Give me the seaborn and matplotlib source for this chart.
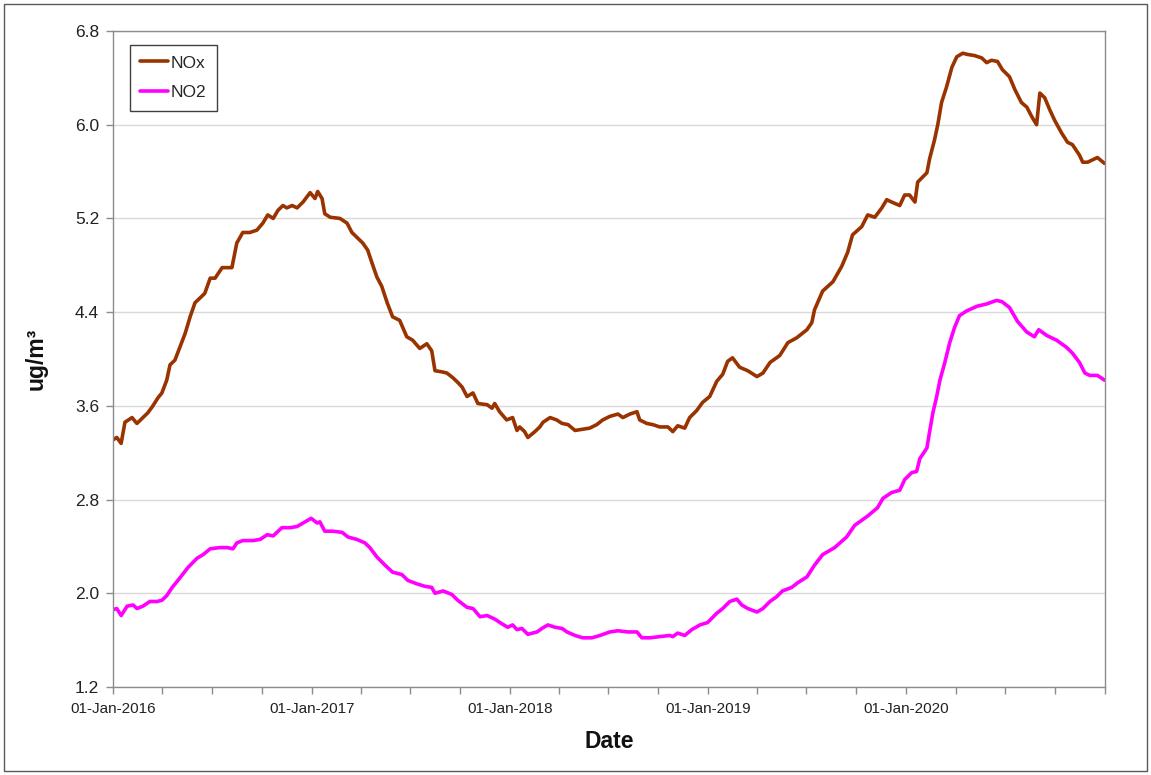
import matplotlib
matplotlib.use("Agg")
import matplotlib.pyplot as plt
import matplotlib.dates as mdates
from matplotlib.patches import Rectangle
from matplotlib.ticker import FixedLocator, FormatStrFormatter
import numpy as np
import pandas as pd
import seaborn as sns

# Rolling concentrations, days counted from 1 Jan 2016
nox_day = [0, 7, 15, 22, 35, 44, 55, 64, 72, 83, 90, 99, 105, 114, 123, 133, 142, 151,
           160, 169, 179, 188, 201, 219, 228, 239, 252, 265, 276, 285, 295, 304, 313, 320,
           330, 339, 350, 363, 372, 377, 385, 390, 400, 418, 431, 440, 449, 460, 469, 477,
           486, 495, 505, 515, 528, 541, 552, 565, 578, 587, 593, 606, 615, 626, 635, 643,
           652, 663, 672, 689, 698, 703, 712, 725, 736, 744, 749, 758, 764, 777, 786, 792,
           805, 817, 827, 838, 851, 865, 878, 891, 902, 915, 930, 939, 952, 965, 970, 983,
           994, 1007, 1022, 1031, 1040, 1053, 1062, 1075, 1086, 1099, 1112, 1123, 1132,
           1141, 1154, 1169, 1186, 1197, 1210, 1228, 1243, 1259, 1278, 1287, 1292, 1307,
           1326, 1342, 1353, 1362, 1379, 1390, 1403, 1416, 1425, 1434, 1449, 1458, 1467,
           1477, 1482, 1499, 1504, 1513, 1519, 1526, 1535, 1545, 1554, 1565, 1574, 1587,
           1600, 1609, 1618, 1629, 1638, 1651, 1661, 1673, 1683, 1692, 1701, 1707, 1716,
           1725, 1734, 1747, 1758, 1767, 1780, 1786, 1795, 1804, 1813, 1826]
nox_value = [3.31, 3.33, 3.28, 3.46, 3.50, 3.45, 3.50, 3.54, 3.59, 3.67, 3.71, 3.82, 3.95,
             3.99, 4.10, 4.22, 4.36, 4.48, 4.52, 4.56, 4.69, 4.69, 4.78, 4.78, 4.99, 5.08,
             5.08, 5.10, 5.16, 5.23, 5.20, 5.27, 5.31, 5.29, 5.31, 5.29, 5.34, 5.42, 5.37,
             5.43, 5.37, 5.24, 5.21, 5.20, 5.16, 5.08, 5.04, 4.99, 4.93, 4.82, 4.70, 4.62,
             4.48, 4.36, 4.33, 4.19, 4.16, 4.09, 4.13, 4.07, 3.90, 3.89, 3.88, 3.84, 3.80,
             3.76, 3.68, 3.71, 3.62, 3.61, 3.58, 3.62, 3.55, 3.48, 3.50, 3.39, 3.42, 3.38,
             3.33, 3.38, 3.42, 3.46, 3.50, 3.48, 3.45, 3.44, 3.39, 3.40, 3.41, 3.44, 3.48,
             3.51, 3.53, 3.50, 3.53, 3.55, 3.48, 3.45, 3.44, 3.42, 3.42, 3.38, 3.43, 3.41,
             3.50, 3.56, 3.63, 3.68, 3.81, 3.87, 3.98, 4.01, 3.93, 3.90, 3.85, 3.88, 3.97,
             4.03, 4.14, 4.18, 4.25, 4.31, 4.42, 4.58, 4.66, 4.79, 4.91, 5.06, 5.13, 5.23,
             5.21, 5.29, 5.36, 5.34, 5.31, 5.40, 5.40, 5.34, 5.51, 5.59, 5.71, 5.87, 6.00,
             6.19, 6.32, 6.49, 6.58, 6.61, 6.60, 6.59, 6.57, 6.53, 6.55, 6.54, 6.47, 6.41,
             6.30, 6.19, 6.15, 6.07, 6.00, 6.27, 6.23, 6.13, 6.04, 5.93, 5.85, 5.83, 5.74,
             5.68, 5.68, 5.70, 5.72, 5.67]

no2_day = [0, 7, 15, 26, 37, 44, 55, 68, 81, 90, 99, 109, 123, 138, 155, 166, 179, 197,
           210, 221, 228, 239, 258, 271, 284, 295, 311, 326, 339, 350, 365, 376, 381, 390,
           405, 422, 433, 449, 464, 473, 486, 501, 515, 532, 543, 560, 574, 587, 593, 608,
           624, 635, 652, 663, 676, 689, 703, 716, 727, 736, 744, 753, 764, 781, 790, 801,
           814, 827, 836, 851, 865, 882, 897, 915, 930, 948, 965, 974, 989, 1007, 1025,
           1031, 1040, 1053, 1066, 1081, 1095, 1112, 1123, 1136, 1149, 1158, 1169, 1186,
           1197, 1210, 1222, 1233, 1250, 1261, 1278, 1292, 1307, 1329, 1351, 1366, 1390,
           1408, 1418, 1434, 1449, 1458, 1471, 1480, 1486, 1499, 1504, 1510, 1517, 1523,
           1532, 1541, 1550, 1559, 1572, 1591, 1609, 1627, 1637, 1651, 1666, 1683, 1697,
           1705, 1720, 1738, 1756, 1767, 1780, 1790, 1799, 1813, 1826]
no2_value = [1.86, 1.87, 1.81, 1.89, 1.90, 1.87, 1.89, 1.93, 1.93, 1.94, 1.98, 2.05, 2.13,
             2.22, 2.30, 2.33, 2.38, 2.39, 2.39, 2.38, 2.43, 2.45, 2.45, 2.46, 2.50, 2.49,
             2.56, 2.56, 2.57, 2.60, 2.64, 2.60, 2.61, 2.53, 2.53, 2.52, 2.48, 2.46, 2.43,
             2.39, 2.31, 2.24, 2.18, 2.16, 2.11, 2.08, 2.06, 2.05, 2.00, 2.02, 1.99, 1.94,
             1.88, 1.87, 1.80, 1.81, 1.78, 1.74, 1.71, 1.73, 1.69, 1.70, 1.65, 1.67, 1.70,
             1.73, 1.71, 1.70, 1.67, 1.64, 1.62, 1.62, 1.64, 1.67, 1.68, 1.67, 1.67, 1.62,
             1.62, 1.63, 1.64, 1.63, 1.66, 1.64, 1.69, 1.73, 1.75, 1.83, 1.87, 1.93, 1.95,
             1.90, 1.87, 1.84, 1.87, 1.93, 1.97, 2.02, 2.05, 2.09, 2.14, 2.24, 2.33, 2.39,
             2.48, 2.58, 2.66, 2.73, 2.81, 2.86, 2.88, 2.97, 3.03, 3.04, 3.15, 3.24, 3.38,
             3.54, 3.68, 3.82, 3.97, 4.14, 4.27, 4.37, 4.41, 4.45, 4.47, 4.50, 4.49, 4.44,
             4.32, 4.23, 4.19, 4.25, 4.20, 4.16, 4.10, 4.05, 3.97, 3.88, 3.86, 3.86, 3.82]

series_names = ["NOx", "NO2"]
series_colors = ["#993300", "#FF00FF"]
y_ticks = [1.2, 2.0, 2.8, 3.6, 4.4, 5.2, 6.0, 6.8]
year_ticks = ["2016-01-01", "2017-01-01", "2018-01-01", "2019-01-01", "2020-01-01"]

start = pd.Timestamp("2016-01-01")
end = pd.Timestamp("2021-01-01")
frames = []
for name, days, vals in [("NOx", nox_day, nox_value), ("NO2", no2_day, no2_value)]:
    frames.append(pd.DataFrame({
        "Date": start + pd.to_timedelta(days, unit="D"),
        "value": vals,
        "species": name,
    }))
df = pd.concat(frames, ignore_index=True)

sns.set_style("white")
plt.rcParams["font.family"] = ["Liberation Sans", "DejaVu Sans"]

W, H = 1151, 775
fig = plt.figure(figsize=(W / 100, H / 100), dpi=100)
ax = fig.add_axes([113 / W, 1 - 687 / H, (1105 - 113) / W, (687 - 31) / H])

sns.lineplot(data=df, x="Date", y="value", hue="species", hue_order=series_names,
             palette=dict(zip(series_names, series_colors)), estimator=None,
             linewidth=2.6, ax=ax)

ax.set_ylim(1.2, 6.8)
ax.set_xlim(start, end)
ax.yaxis.set_major_locator(FixedLocator(y_ticks))
ax.yaxis.set_major_formatter(FormatStrFormatter("%.1f"))

# Labelled ticks at each new year, quarter ticks in between and at the end
major_pos = mdates.date2num(pd.to_datetime(year_ticks))
quarter_pos = mdates.date2num(pd.date_range(start, end, freq="QS"))
minor_pos = [q for q in quarter_pos if q not in set(major_pos)]
ax.xaxis.set_major_locator(FixedLocator(major_pos))
ax.xaxis.set_minor_locator(FixedLocator(minor_pos))
ax.xaxis.set_major_formatter(mdates.DateFormatter("%d-%b-%Y"))

ax.grid(axis="y", color="#d9d9d9", linewidth=1)
ax.grid(axis="x", visible=False)
for side in ["left", "right", "top", "bottom"]:
    ax.spines[side].set_visible(True)
    ax.spines[side].set_color("#8c8c8c")
    ax.spines[side].set_linewidth(1.0)

ax.tick_params(axis="both", which="major", direction="out", length=5, width=1,
               color="#8c8c8c", labelcolor="#222222")
ax.tick_params(axis="x", which="major", pad=6, labelsize=11, bottom=True)
ax.tick_params(axis="y", which="major", pad=5, labelsize=12.5, left=True)
ax.tick_params(axis="x", which="minor", direction="out", length=5, width=1,
               color="#8c8c8c", bottom=True)

ax.set_xlabel("Date", fontsize=16.5, fontweight="bold", color="#111111")
ax.set_ylabel("ug/m³", fontsize=16.5, fontweight="bold", color="#111111")
ax.xaxis.set_label_coords(0.5, -0.065)
ax.yaxis.set_label_coords(-0.066, 0.5)

leg = ax.legend(loc="upper left", bbox_to_anchor=(17 / 992, 1 - 14 / 656),
                fontsize=12.5, frameon=True, fancybox=False, edgecolor="#404040",
                framealpha=1, handlelength=1.6, handletextpad=0.15,
                borderpad=0.6, labelspacing=0.85, borderaxespad=0)
leg.get_frame().set_linewidth(1.0)
for line in leg.get_lines():
    line.set_linewidth(2.6)

fig.patches.append(Rectangle((4 / W, 4 / H), (W - 8) / W, (H - 8) / H,
                             transform=fig.transFigure, fill=False,
                             edgecolor="#5a5a5a", linewidth=1.0))

fig.savefig("out.png", dpi=100)
